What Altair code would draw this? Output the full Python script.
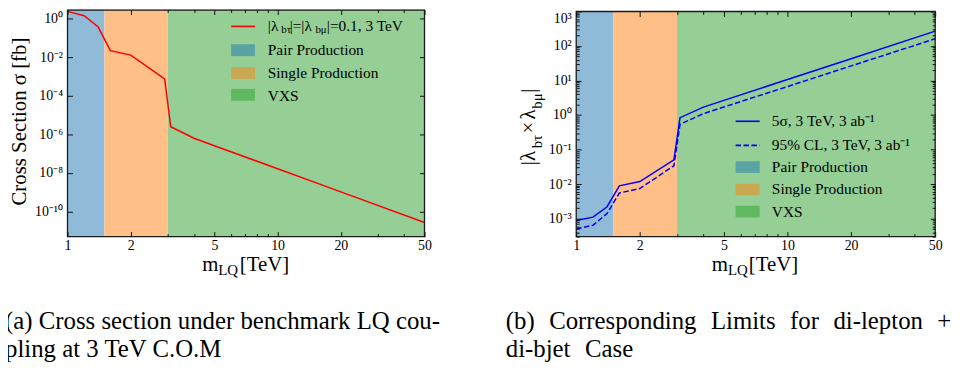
import altair as alt
import pandas as pd

# ---------------- data ----------------
m_a = [1.0, 1.2, 1.4, 1.6, 2.0, 2.9, 3.1, 4.0, 5.0, 10.0, 20.0, 50.0]
sigma_a = [2.4, 1.43, 0.37, 0.022, 0.013, 7.5e-4, 2.5e-6, 6.3e-7, 2.6e-7, 1.66e-8, 1.05e-9, 2.7e-11]

m_b = [1.0, 1.2, 1.4, 1.6, 2.0, 2.9, 3.1, 4.0, 5.0, 10.0, 20.0, 50.0]
lim_5sigma = [8.8e-4, 1.1e-3, 2.2e-3, 8.9e-3, 1.18e-2, 0.05, 0.84, 1.7, 2.66, 10.7, 42.8, 270.0]
lim_95cl = [5.0e-4, 6.4e-4, 1.4e-3, 5.5e-3, 7.4e-3, 0.034, 0.54, 1.1, 1.71, 6.7, 26.5, 162.0]

region_names = ["Pair Production", "Single Production", "VXS"]
region_lo = [1.0, 1.5, 3.0]
region_hi = [1.5, 3.0, 50.0]

x_major = [1, 2, 5, 10, 20, 50]
x_minor = [3, 4, 6, 7, 8, 9, 30, 40]
ya_exps = [0, -2, -4, -6, -8, -10]
yb_exps = [-3, -2, -1, 0, 1, 2, 3]
ya_major = [10.0 ** e for e in ya_exps]
yb_major = [10.0 ** e for e in yb_exps]
yb_minor = [round(k * 10.0 ** e, 10) for e in range(-4, 3) for k in range(2, 10)
            if 3e-4 <= round(k * 10.0 ** e, 10) <= 1e3]

# ---------------- styling ----------------
FONT = "Liberation Serif"
BAND_COLORS = ["#8FBBD9", "#FFBF86", "#95CF95"]
SWATCH_COLORS = ["#5AA3A4", "#CAA751", "#60B860"]
W, H = 958, 363

df_a = pd.DataFrame({"m": m_a, "v": sigma_a})
df_b = pd.DataFrame({"m": m_b * 2, "v": lim_5sigma + lim_95cl,
                     "s": ["5s"] * len(m_b) + ["95"] * len(m_b)})
df_reg = pd.DataFrame({"name": region_names, "lo": region_lo, "hi": region_hi})
one = pd.DataFrame({"a": [0]})

SUP = str.maketrans("-0123456789", "⁻⁰¹²³⁴⁵⁶⁷⁸⁹")


def sup_expr(exps):
    expr = "''"
    for e in exps:
        lab = "10" + str(e).translate(SUP)
        expr = f"(round(log(datum.value)/LN10) == {e} ? '{lab}' : {expr})"
    return expr


def tick_axis(orient, offset, values, size):
    return alt.Axis(orient=orient, offset=offset, values=values, labels=False,
                    domain=False, grid=False, ticks=True, tickSize=size,
                    tickColor="#111111", tickWidth=1, title=None, zindex=1)


def panel(df, xs, ys, left, right, top, bottom, y_major_vals, y_exps,
          y_minor_vals, line_layers, top_label_value):
    bands = alt.Chart(df_reg).mark_rect().encode(
        x=alt.X("lo:Q", scale=xs, axis=None),
        x2="hi:Q",
        y=alt.value(top), y2=alt.value(bottom),
        color=alt.Color("name:N", scale=alt.Scale(domain=region_names, range=BAND_COLORS),
                        legend=None),
    )
    frame = alt.Chart(one).mark_rect(filled=False, stroke="#1a1a1a", strokeWidth=1.3).encode(
        x=alt.value(left), x2=alt.value(right), y=alt.value(max(top, 0.7)), y2=alt.value(bottom))

    xlab = alt.Axis(orient="bottom", offset=-(H - bottom), values=x_major, ticks=False,
                    domain=False, grid=False, labelFont=FONT, labelFontSize=14,
                    labelColor="black", labelPadding=2, labelOverlap=False,
                    labelFlush=False, format="d", title=None, zindex=1)
    ylab = alt.Axis(orient="left", offset=-left, values=y_major_vals, ticks=False,
                    domain=False, grid=False, labelFont=FONT, labelFontSize=14,
                    labelColor="black", labelPadding=5, labelOverlap=False,
                    labelFlush=False, labelExpr=sup_expr(y_exps), title=None, zindex=1,
                    labelBaseline={"condition": {"test": f"datum.value >= {top_label_value}",
                                                 "value": "top"},
                                   "value": "middle"})
    specs = [
        (xlab, ylab),
        (tick_axis("top", -bottom, x_major, 5), tick_axis("right", -(W - left), y_major_vals, 5)),
        (tick_axis("top", -bottom, x_minor, 3),
         tick_axis("right", -(W - left), y_minor_vals, 3) if y_minor_vals else None),
        (tick_axis("bottom", -(H - top), x_major, 5), tick_axis("left", -right, y_major_vals, 5)),
        (tick_axis("bottom", -(H - top), x_minor, 3),
         tick_axis("left", -right, y_minor_vals, 3) if y_minor_vals else None),
    ]
    axis_layers = []
    for xa, ya in specs:
        axis_layers.append(
            alt.Chart(df).mark_point(opacity=0).encode(
                x=alt.X("m:Q", scale=xs, axis=xa),
                y=alt.Y("v:Q", scale=ys, axis=ya),
            )
        )
    return alt.layer(bands, *line_layers, frame, *axis_layers).resolve_axis(
        x="independent", y="independent")


# ---------- panel (a) ----------
LA, RA, TA, BA = 60, 420, 0, 229
xs_a = alt.Scale(type="log", domain=[1, 50], range=[LA, RA])
ys_a = alt.Scale(type="log", domain=[5e-12, 3], range=[BA, TA])
line_a = alt.Chart(df_a).mark_line(color="#ff0000", strokeWidth=1.5).encode(
    x=alt.X("m:Q", scale=xs_a, axis=None), y=alt.Y("v:Q", scale=ys_a, axis=None))
panel_a = panel(df_a, xs_a, ys_a, LA, RA, TA, BA, ya_major, ya_exps, [], [line_a], 100)

# ---------- panel (b) ----------
LB, RB, TB, BB = 573, 935, 2, 229
xs_b = alt.Scale(type="log", domain=[1, 50], range=[LB, RB])
ys_b = alt.Scale(type="log", domain=[3e-4, 1e3], range=[BB, TB])
line_b1 = alt.Chart(df_b).transform_filter(alt.datum.s == "5s").mark_line(
    color="#0000ff", strokeWidth=1.5).encode(
    x=alt.X("m:Q", scale=xs_b, axis=None), y=alt.Y("v:Q", scale=ys_b, axis=None))
line_b2 = alt.Chart(df_b).transform_filter(alt.datum.s == "95").mark_line(
    color="#0000ff", strokeWidth=1.5, strokeDash=[5.5, 2.5]).encode(
    x=alt.X("m:Q", scale=xs_b, axis=None), y=alt.Y("v:Q", scale=ys_b, axis=None))
panel_b = panel(df_b, xs_b, ys_b, LB, RB, TB, BB, yb_major, yb_exps, yb_minor,
                [line_b1, line_b2], 999)


# ---------- annotations ----------
def txt(s, x, y, size, align="left", baseline="middle", angle=0, font=FONT):
    kw = dict(text=s, font=font, fontSize=size, color="black", align=align, baseline=baseline)
    if angle:
        kw["angle"] = angle
    return alt.Chart(one).mark_text(**kw).encode(x=alt.value(x), y=alt.value(y))


def swatch(x1, x2, y1, y2, color):
    return alt.Chart(one).mark_rect(color=color).encode(
        x=alt.value(x1), x2=alt.value(x2), y=alt.value(y1), y2=alt.value(y2))


def legline(x1, x2, y, color, dash=None):
    kw = dict(color=color, strokeWidth=1.6)
    if dash:
        kw["strokeDash"] = dash
    return alt.Chart(one).mark_rule(**kw).encode(x=alt.value(x1), x2=alt.value(x2), y=alt.value(y))


LEG = 15.5
SUB = 11
ann = []
# legend (a)
ann += [legline(225, 249, 17, "#ff0000"),
        txt("|λ", 262, 17, LEG), txt("bτ", 275.5, 21, SUB), txt("|=|λ", 284, 17, LEG),
        txt("bμ", 310, 21, SUB), txt("|=0.1, 3 TeV", 321.5, 17, LEG)]
for (y1, y2, yt), name, col in zip([(35, 47, 41), (58, 70, 64), (80, 92, 87)],
                                   region_names, SWATCH_COLORS):
    ann += [swatch(225, 249, y1, y2, col), txt(name, 262, yt, LEG)]
# legend (b)
ann += [legline(733.7, 758, 112.7, "#0000ff"), txt("5σ, 3 TeV, 3 ab⁻¹", 770.3, 112.7, LEG),
        legline(733.7, 758, 137, "#0000ff", [5.5, 2.5]),
        txt("95% CL, 3 TeV, 3 ab⁻¹", 770.3, 137, LEG)]
for (y1, y2, yt), name, col in zip([(153, 164.7, 159), (175.7, 187.3, 181.5), (198, 209.7, 204)],
                                   region_names, SWATCH_COLORS):
    ann += [swatch(733.7, 758, y1, y2, col), txt(name, 770.3, yt, LEG)]

# axis titles
ann += [txt("Cross Section σ [fb]", 12, 113, 21, align="center", angle=270)]
ann += [txt("m", 196, 264, 21, baseline="alphabetic"), txt("LQ", 212, 268, 15, baseline="alphabetic"),
        txt("[TeV]", 233.7, 264, 21, baseline="alphabetic")]
ann += [txt("m", 709.7, 264, 21, baseline="alphabetic"), txt("LQ", 726, 268, 15, baseline="alphabetic"),
        txt("[TeV]", 747, 264, 21, baseline="alphabetic")]
ann += [txt("|λ", 525, 157, 21, angle=270), txt("bτ", 533, 140, 15, angle=270),
        txt("×", 525, 125, 21, angle=270), txt("λ", 525, 111, 21, angle=270),
        txt("bμ", 533, 100, 15, angle=270), txt("|", 525, 84, 21, angle=270)]

# captions (extra thin spaces widen the justified line as in the reference)
CAP = 25
G = " \u2004"
ann += [txt("(a) Cross section under benchmark LQ cou-", -3, 322, CAP, baseline="alphabetic"),
        txt("pling at 3 TeV C.O.M", -3, 350, CAP, baseline="alphabetic"),
        txt(G.join(["(b)", "Corresponding", "Limits", "for", "di-lepton", "+"]), 502, 322, CAP,
            baseline="alphabetic"),
        txt(G.join(["di-bjet", "Case"]), 502, 350, CAP, baseline="alphabetic")]

chart = alt.layer(panel_a, panel_b, *ann).resolve_scale(
    x="independent", y="independent"
).properties(
    width=W, height=H, padding=0, autosize=alt.AutoSizeParams(type="none")
).configure_view(strokeWidth=0)

chart.save("out.html", embed_options={"renderer": "svg", "actions": False})
